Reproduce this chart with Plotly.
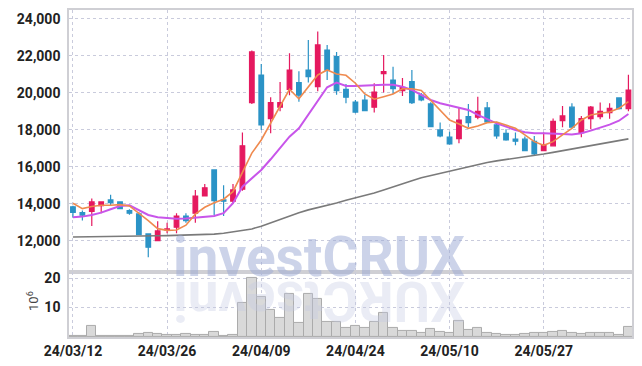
import plotly.graph_objects as go
from plotly.subplots import make_subplots

dates = (
    ["24/03/%02d" % d for d in [12, 13, 14, 15, 18, 19, 20, 21, 22, 25, 26, 27, 28, 29]]
    + ["24/04/%02d" % d for d in [1, 2, 3, 4, 5, 8, 9, 11, 12, 15, 16, 17, 18, 19, 22, 23, 24, 25, 26, 29, 30]]
    + ["24/05/%02d" % d for d in [2, 3, 7, 8, 9, 10, 13, 14, 16, 17, 20, 21, 22, 23, 24, 27, 28, 29, 30, 31]]
    + ["24/06/%02d" % d for d in [3, 4, 5, 7, 10]]
)

opens = [13850, 13530, 13600, 13910, 14220, 14110, 13640, 13460, 12380, 12020,
         12600, 12740, 13350, 13500, 14430, 15840, 14220, 14150, 14800, 19480,
         20970, 18610, 19230, 20200, 20560, 21240, 20340, 22320, 21960, 20200,
         19510, 19620, 19230, 21040, 20700, 20130, 20610, 19890, 19410, 18000,
         17610, 17530, 18720, 18690, 19190, 18270, 17820, 17500, 17500, 17390,
         16880, 17140, 18500, 19230, 17860, 18610, 18720, 18940, 19730, 19150]
highs = [13900, 13640, 14290, 14150, 14500, 14150, 13720, 13570, 12400, 13060,
         12990, 13500, 13500, 14760, 15080, 15840, 15010, 15080, 17860, 22300,
         21570, 19770, 20600, 22150, 21170, 22870, 23320, 22600, 22220, 20490,
         19620, 19900, 20530, 22050, 21420, 20810, 21240, 20000, 19500, 18400,
         17910, 19230, 19410, 19800, 19510, 18450, 18040, 17860, 17650, 17680,
         17860, 18620, 19300, 19440, 18760, 19300, 19480, 19440, 19730, 20990]
lows = [13250, 13100, 12810, 13500, 13930, 13750, 13420, 12340, 11120, 12020,
        12410, 12420, 12990, 12990, 14400, 13390, 13350, 14040, 14720, 19400,
        18000, 17820, 19010, 19880, 19530, 20560, 20090, 20700, 19910, 19440,
        18900, 19010, 18940, 20020, 19950, 19840, 19410, 19550, 18180, 17600,
        17200, 17280, 18150, 18580, 18430, 17530, 17420, 17170, 16880, 16600,
        16880, 17100, 18150, 18150, 17600, 18040, 18580, 18610, 19100, 19010]
closes = [13550, 13390, 14110, 14110, 14070, 13750, 13500, 12340, 11660, 12540,
          12650, 13350, 13100, 14430, 14870, 14180, 14150, 14760, 17140, 22220,
          18270, 19480, 19480, 21240, 19880, 20880, 22600, 21240, 20130, 19770,
          18970, 19040, 20050, 21150, 20230, 20310, 19480, 19620, 18180, 17680,
          17240, 18540, 18400, 19010, 18430, 17680, 17460, 17390, 16880, 16700,
          17210, 18470, 18760, 18150, 18610, 19230, 19010, 19170, 19150, 20160]

volume_m = [0.5, 0.3, 3.9, 0.5, 0.4, 0.2, 0.2, 1.2, 1.4, 1.0,
            0.8, 0.8, 1.0, 0.8, 0.7, 1.6, 0.5, 0.7, 11.6, 20.1,
            13.6, 9.3, 6.5, 14.6, 4.8, 14.6, 12.9, 5.2, 5.2, 3.1,
            3.9, 3.1, 5.2, 8.2, 3.1, 2.1, 2.1, 1.4, 2.8, 1.8,
            1.4, 5.5, 2.5, 3.1, 1.4, 1.0, 0.7, 0.7, 1.0, 1.4,
            1.4, 1.8, 2.1, 1.4, 1.0, 1.4, 1.4, 1.4, 0.7, 3.5]

ma_short = [14038, 13750, 13860, 13930, 13930, 13965, 13890, 13500, 13100, 12665,
            12570, 12595, 12850, 13450, 13820, 14060, 14255, 14667, 15750, 16750,
            17460, 18380, 19244, 20200, 19690, 20340, 20973, 21243, 21027, 20957,
            20525, 19946, 19660, 19800, 19946, 20230, 20230, 20135, 19622, 19082,
            18540, 18325, 18090, 18217, 18395, 18433, 18270, 18090, 17730, 17368,
            17170, 17368, 17730, 18090, 18540, 18811, 18900, 18973, 19170, 19530]
ma_mid = [13280, 13315, 13405, 13530, 13715, 13890, 13930, 13676, 13405, 13280,
          13225, 13200, 13210, 13250, 13315, 13350, 13500, 14040, 14935, 15400,
          15838, 16415, 17010, 17640, 18090, 18811, 19530, 20308, 20557, 20379,
          20379, 20415, 20450, 20450, 20450, 20340, 20163, 19892, 19622, 19443,
          19335, 19227, 19082, 18811, 18580, 18360, 18180, 18000, 17875, 17820,
          17820, 17820, 17784, 17750, 17820, 17964, 18110, 18290, 18500, 18865]
ma_long = [12217, 12220, 12225, 12230, 12235, 12250, 12255, 12260, 12270, 12280,
           12290, 12300, 12310, 12320, 12330, 12370, 12420, 12500, 12560, 12650,
           12800, 12990, 13170, 13350, 13520, 13680, 13790, 13900, 14050, 14200,
           14320, 14433, 14590, 14750, 14930, 15100, 15260, 15420, 15540, 15650,
           15760, 15880, 16010, 16140, 16240, 16330, 16400, 16460, 16540, 16620,
           16700, 16790, 16880, 16980, 17060, 17150, 17250, 17340, 17430, 17520]

tick_dates = ["24/03/12", "24/03/26", "24/04/09", "24/04/24", "24/05/10", "24/05/27"]
price_ticks = [12000, 14000, 16000, 18000, 20000, 22000, 24000]
vol_ticks = [10, 20]

UP = "#e5195f"
DOWN = "#2b93c6"
GRID = "#c9cbdc"
AXIS = "#cfcfd4"
FONT = "Roboto"

fig = make_subplots(rows=2, cols=1, shared_xaxes=True, vertical_spacing=0,
                    row_heights=[0.801, 0.199])

fig.add_trace(go.Scatter(x=dates, y=ma_long, mode="lines",
                         line=dict(color="#7a7a7a", width=1.6), hoverinfo="skip"), row=1, col=1)
fig.add_trace(go.Scatter(x=dates, y=ma_mid, mode="lines",
                         line=dict(color="#c855ea", width=2), hoverinfo="skip"), row=1, col=1)
fig.add_trace(go.Scatter(x=dates, y=ma_short, mode="lines",
                         line=dict(color="#ef8a4f", width=1.6), hoverinfo="skip"), row=1, col=1)
fig.add_trace(go.Candlestick(
    x=dates, open=opens, high=highs, low=lows, close=closes,
    increasing=dict(line=dict(color=UP, width=1.2), fillcolor=UP),
    decreasing=dict(line=dict(color=DOWN, width=1.2), fillcolor=DOWN),
    whiskerwidth=0,
), row=1, col=1)

fig.add_trace(go.Bar(x=dates, y=volume_m, marker=dict(color="#d9d9d9",
                     line=dict(color="#ababab", width=1))), row=2, col=1)

tickfont = dict(family=FONT, size=14, color="#222222", weight="bold")

fig.update_xaxes(type="category", range=[-0.42, 59.38], tickmode="array",
                 tickvals=tick_dates, ticktext=tick_dates, automargin=False,
                 showgrid=True, gridcolor=GRID, griddash="dot", gridwidth=1,
                 showline=True, linecolor=AXIS, linewidth=1.5, mirror=True,
                 ticks="", tickfont=tickfont, rangeslider_visible=False, zeroline=False)
fig.update_xaxes(showticklabels=False, row=1, col=1)

fig.update_yaxes(range=[10325, 24486], tickvals=price_ticks, tickformat=",d",
                 showgrid=True, gridcolor=GRID, griddash="dot", automargin=False,
                 showline=True, linecolor=AXIS, linewidth=1.5, mirror=True,
                 ticks="", tickfont=tickfont, zeroline=False, ticklabelstandoff=4,
                 row=1, col=1)
fig.update_yaxes(range=[0, 22.1], tickvals=vol_ticks, automargin=False,
                 showgrid=True, gridcolor=GRID, griddash="dot",
                 showline=True, linecolor=AXIS, linewidth=1.5, mirror=True,
                 ticks="", tickfont=tickfont, zeroline=False, ticklabelstandoff=4,
                 row=2, col=1)

# watermark
fig.add_annotation(text="investCRUX", xref="paper", yref="paper", x=0.444, y=0.245,
                   xanchor="center", yanchor="middle", showarrow=False,
                   font=dict(family=FONT, size=55, color="rgba(158,170,212,0.52)", weight="bold"))
fig.add_annotation(text="XURCtsevni", xref="paper", yref="paper", x=0.444, y=0.11,
                   xanchor="center", yanchor="middle", showarrow=False, textangle=180,
                   font=dict(family=FONT, size=55, color="rgba(196,200,226,0.35)", weight="bold"))
fig.add_annotation(text="10<sup>6</sup>", xref="paper", yref="paper", x=-0.064, y=0.11,
                   xanchor="center", yanchor="middle", showarrow=False, textangle=-90,
                   font=dict(family="Roboto", size=13, color="#444444"))

fig.update_layout(width=642, height=366, margin=dict(l=69, r=10, t=10, b=29),
                  paper_bgcolor="white", plot_bgcolor="white", showlegend=False,
                  bargap=0, hovermode=False)

fig.write_html("out.html", config={"displayModeBar": False},
               post_script="document.body.style.margin='0';document.body.style.padding='0';")
